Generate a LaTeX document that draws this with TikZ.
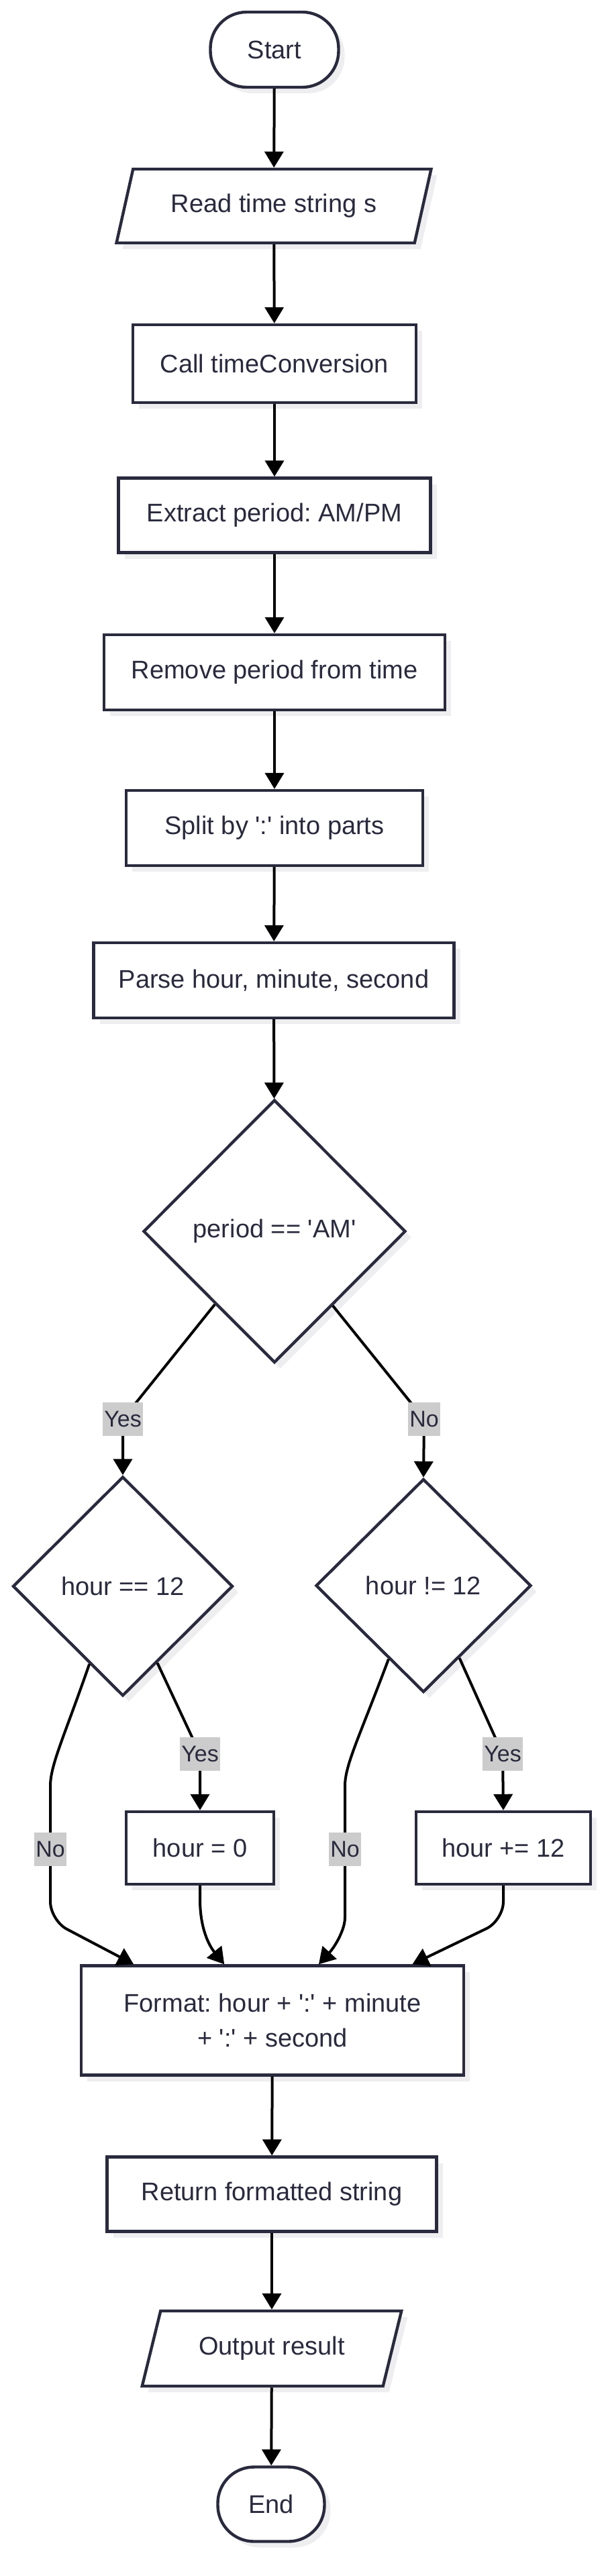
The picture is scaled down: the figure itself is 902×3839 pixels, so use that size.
\documentclass[tikz,border=0pt]{standalone}
\usepackage{fontspec}
\setmainfont{Liberation Sans}
\usetikzlibrary{shapes.geometric,shadows,calc,arrows.meta}

\definecolor{navy}{RGB}{42,42,62}
\definecolor{labelgray}{RGB}{204,204,204}
\definecolor{shadowgray}{RGB}{238,238,240}
\newcommand{\boxfont}{\fontsize{19}{26}\selectfont}
\newcommand{\lblfont}{\fontsize{17}{20}\selectfont}
\newcommand{\sq}{\textquotesingle}
\frenchspacing

\tikzset{
  base/.style={draw=navy, line width=2.2pt, fill=white, text=navy, font=\boxfont, inner sep=0pt, align=center,
    drop shadow={shadow xshift=4.5pt, shadow yshift=-4.5pt, fill=shadowgray, opacity=1}},
  proc/.style={base, rectangle},
  term/.style={base, rectangle, rounded corners=27pt},
  io/.style={base, trapezium, trapezium left angle=63, trapezium right angle=117, trapezium stretches=true},
  decision/.style={base, diamond},
  lbl/.style={fill=labelgray, text=navy, font=\lblfont, inner xsep=1pt, inner ysep=0pt, minimum height=25pt},
  flow/.style={draw=black, line width=2pt, -{Triangle[length=12pt,width=14pt]}}
}

\begin{document}
\begin{tikzpicture}[x=0.5pt, y=-0.5pt]
  \fill[white] (0,0) rectangle (902,3839);
  \useasboundingbox (0,0) rectangle (902,3839);

  \node[term, minimum width=95.5pt, minimum height=56pt] (start) at (409,74) {Start};
  \node[io, minimum width=235pt, minimum height=55pt] (read) at (408,307) {Read time string s};
  \node[proc, minimum width=211pt, minimum height=58pt] (call) at (409,542) {Call timeConversion};
  \node[proc, minimum width=232.5pt, minimum height=55.5pt] (extract) at (409,768) {Extract period: AM/PM};
  \node[proc, minimum width=254pt, minimum height=56pt] (remove) at (409,1002) {Remove period from time};
  \node[proc, minimum width=221pt, minimum height=56pt] (split) at (409,1234) {Split by \sq:\sq{} into parts};
  \node[proc, minimum width=268.5pt, minimum height=56pt] (parse) at (408,1461) {Parse hour, minute, second};
  \node[decision, minimum width=195.5pt, minimum height=196pt] (am) at (409,1835) {period == \sq AM\sq};
  \node[decision, minimum width=164pt, minimum height=163.5pt] (h12) at (183,2364) {hour == 12};
  \node[decision, minimum width=160.5pt, minimum height=159pt] (hne) at (631,2363) {hour != 12};
  \node[proc, minimum width=110pt, minimum height=54pt] (hzero) at (298,2754) {hour = 0};
  \node[proc, minimum width=130pt, minimum height=54pt] (hplus) at (750,2754) {hour += 12};
  \node[proc, minimum width=285pt, minimum height=81.5pt] (fmt) at (406,3011) {Format: hour + \sq:\sq{} + minute\\+ \sq:\sq{} + second};
  \node[proc, minimum width=245.5pt, minimum height=55.5pt] (ret) at (405,3270) {Return formatted string};
  \node[io, minimum width=193.5pt, minimum height=56pt] (out) at (405,3500) {Output result};
  \node[term, minimum width=79.5pt, minimum height=55.5pt] (end) at (404,3732) {End};

  \coordinate (yesA) at (183,2115);
  \coordinate (noA) at (632,2115);
  \coordinate (yesB) at (298,2614);
  \coordinate (noB) at (75,2756);
  \coordinate (yesC) at (749,2614);
  \coordinate (noC) at (514,2756);

  \draw[flow] (start) -- (read);
  \draw[flow] (read) -- (call);
  \draw[flow] (call) -- (extract);
  \draw[flow] (extract) -- (remove);
  \draw[flow] (remove) -- (split);
  \draw[flow] (split) -- (parse);
  \draw[flow] (parse) -- (am);
  \draw[flow] ($(am.west)!0.55!(am.south)$) -- (yesA) -- (h12.north);
  \draw[flow] ($(am.east)!0.56!(am.south)$) -- (noA) -- (hne.north);
  \draw[flow] ($(h12.east)!0.69!(h12.south)$) -- (yesB) -- (hzero.north);
  \draw[flow] ($(hne.east)!0.67!(hne.south)$) -- (yesC) -- (hplus.north);
  \draw[flow, rounded corners=14pt] ($(h12.west)!0.7!(h12.south)$) .. controls (95,2590) and (75,2630) .. (75,2690) -- (noB) -- (75,2862) -- ($(fmt.north west)!0.14!(fmt.north east)$);
  \draw[flow, rounded corners=14pt] ($(hne.west)!0.68!(hne.south)$) .. controls (535,2590) and (514,2630) .. (514,2690) -- (noC) -- (514,2830) .. controls (514,2875) and (500,2900) .. ($(fmt.north west)!0.62!(fmt.north east)$);
  \draw[flow] (hzero.south) -- (298,2830) .. controls (298,2875) and (312,2900) .. ($(fmt.north west)!0.375!(fmt.north east)$);
  \draw[flow, rounded corners=14pt] (hplus.south) -- (750,2862) -- ($(fmt.north west)!0.863!(fmt.north east)$);
  \draw[flow] (fmt) -- (ret);
  \draw[flow] (ret) -- (out);
  \draw[flow] (out) -- (end);

  \node[lbl] (yesAl) at (yesA) {Yes};
  \node[lbl] (noAl) at (noA) {No};
  \node[lbl] (yesBl) at (yesB) {Yes};
  \node[lbl] (noBl) at (noB) {No};
  \node[lbl] (yesCl) at (yesC) {Yes};
  \node[lbl] (noCl) at (noC) {No};
\end{tikzpicture}
\end{document}
